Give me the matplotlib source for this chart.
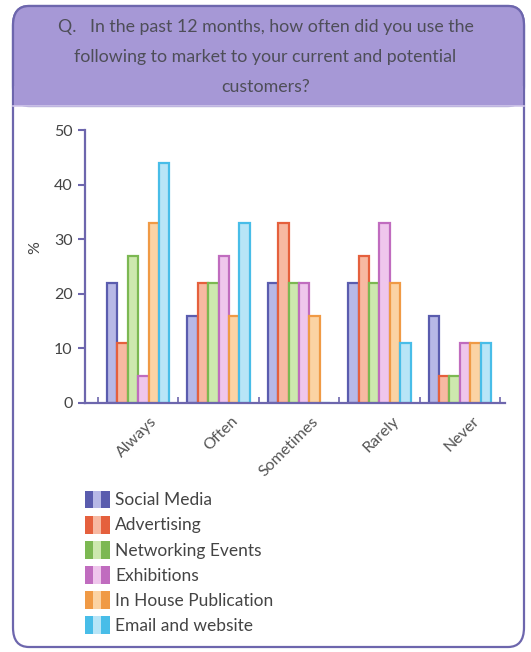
"""Grouped bar chart: marketing channel usage frequency."""

import matplotlib.pyplot as plt
import numpy as np
from matplotlib.legend_handler import HandlerTuple
from matplotlib.patches import FancyBboxPatch, Patch

plt.rcParams["font.family"] = ["Lato", "DejaVu Sans"]

frequency = ["Always", "Often", "Sometimes", "Rarely", "Never"]
channels = [
    "Social Media",
    "Advertising",
    "Networking Events",
    "Exhibitions",
    "In House Publication",
    "Email and website",
]

social_media = [22, 16, 22, 22, 16]
advertising = [11, 22, 33, 27, 5]
networking = [27, 22, 22, 22, 5]
exhibitions = [5, 27, 22, 33, 11]
in_house = [33, 16, 16, 22, 11]
email_web = [44, 33, 0, 11, 11]

series = [social_media, advertising, networking, exhibitions, in_house, email_web]

edge_colors = ["#5a5cae", "#e5603d", "#7cb852", "#c06cbf", "#f09a45", "#48bde8"]
face_colors = ["#b7b8e6", "#f7b9a2", "#cde8ae", "#efc6ec", "#fbd3a4", "#b8e5f7"]

title = ("Q.   In the past 12 months, how often did you use the\n"
         "following to market to your current and potential\n"
         "customers?")

W, H = 531, 652
fig = plt.figure(figsize=(W / 100, H / 100), dpi=100)
fig.patch.set_facecolor("white")

# card outline and the lavender header band
card = FancyBboxPatch((13 / W, 5 / H), 511 / W, 641 / H,
                      boxstyle="round,pad=0,rounding_size=0.03",
                      transform=fig.transFigure, facecolor="white",
                      edgecolor="#6d66ad", linewidth=1.6, zorder=0)
fig.patches.append(card)
header = FancyBboxPatch((13 / W, 546 / H), 511 / W, 100 / H,
                        boxstyle="round,pad=0,rounding_size=0.03",
                        transform=fig.transFigure, facecolor="#a698d6",
                        edgecolor="#6d66ad", linewidth=1.6, zorder=0.5)
fig.patches.append(header)
band_fill = plt.Rectangle((14 / W, 546 / H), 509 / W, 20 / H,
                          transform=fig.transFigure, facecolor="#a698d6",
                          edgecolor="none", zorder=0.6)
fig.patches.append(band_fill)
fig.add_artist(plt.Line2D([13 / W, 524 / W], [546 / H, 546 / H],
                          transform=fig.transFigure, color="#cfc6ea",
                          linewidth=1.2, zorder=0.7))

fig.text(0.5, 1 - 57 / H, title, ha="center", va="center", fontsize=12.8,
         color="#4e4e58", linespacing=2.05, zorder=1)

ax = fig.add_axes([85 / W, 1 - 403 / H, 420 / W, 273 / H])
ax.set_zorder(2)
ax.patch.set_visible(False)

x = np.arange(len(frequency))
bar_w = 0.13
offsets = (np.arange(len(series)) - (len(series) - 1) / 2) * bar_w
for vals, off, ec, fc in zip(series, offsets, edge_colors, face_colors):
    ax.bar(x + off, vals, width=bar_w, color=fc, edgecolor=ec,
           linewidth=1.6, zorder=2)

ax.set_xlim(-0.66, 4.56)
ax.set_ylim(0, 50)
ax.set_yticks(range(0, 51, 10))
# labels hang from just right of each group's centre
ax.set_xticks(x + 0.15)
ax.set_xticklabels(frequency, rotation=45, ha="right", rotation_mode="anchor",
                   fontsize=11.5, color="#555555")
ax.set_xticks(np.arange(len(frequency) + 1) - 0.5, minor=True)
ax.tick_params(axis="x", which="major", length=0, pad=8)
ax.tick_params(axis="x", which="minor", length=4, width=1.2, color="#6d66ad",
               direction="in")
ax.tick_params(axis="y", length=5, width=1.5, color="#6d66ad", labelsize=11.5,
               labelcolor="#444444", pad=4)
ax.set_ylabel("%", fontsize=11.5, color="#444444")
ax.yaxis.set_label_coords(-0.102, 0.571)

for side in ("top", "right"):
    ax.spines[side].set_visible(False)
for side in ("left", "bottom"):
    ax.spines[side].set_color("#6d66ad")
    ax.spines[side].set_linewidth(1.6)

# legend keys: dark / light / dark stripes like the bars
handles = [(Patch(facecolor=ec, edgecolor="none"),
            Patch(facecolor=fc, edgecolor="none"),
            Patch(facecolor=ec, edgecolor="none"))
           for ec, fc in zip(edge_colors, face_colors)]
leg = fig.legend(handles, channels, loc="upper left",
                 bbox_to_anchor=(69 / W, 1 - 475 / H), frameon=False,
                 fontsize=12.5, labelcolor="#444444", handlelength=1.45,
                 handleheight=1.2, handletextpad=0.3, labelspacing=0.42,
                 handler_map={tuple: HandlerTuple(ndivide=None, pad=0)})
leg.set_zorder(3)

fig.savefig("out.png", dpi=100)
